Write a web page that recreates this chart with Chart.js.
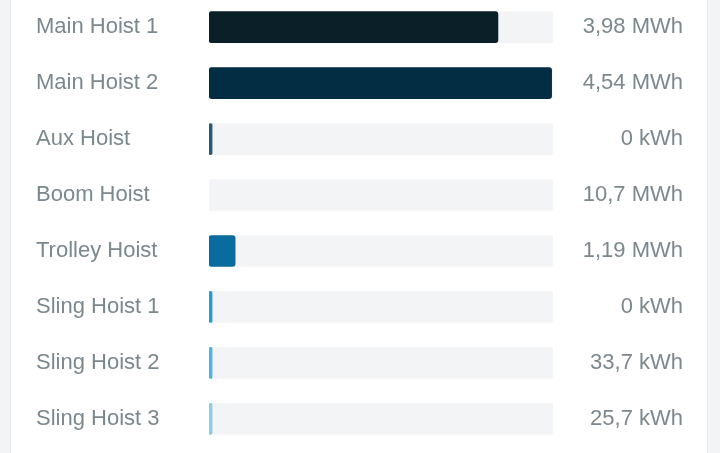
<!DOCTYPE html>
<html>
<head>
<meta charset="utf-8">
<script src="https://cdn.jsdelivr.net/npm/chart.js@4/dist/chart.umd.min.js"></script>
<style>
    html, body { margin: 0; padding: 0; }
    body { width: 720px; height: 453px; background: #f3f4f6; position: relative; overflow: hidden; }
    .card { position: absolute; left: 10px; top: -2px; width: 696px; height: 470px; background: #fff; border-left: 1px solid #e6e8ea; border-right: 1px solid #e6e8ea; }
    .wrap { position: absolute; left: 36px; top: -17px; width: 647px; height: 480px; }
</style>
</head>
<body>
<div class="card"></div>
<div class="wrap"><canvas id="energyChart"></canvas></div>
<script>
// Energy consumption per hoist

const hoists = ['Main Hoist 1', 'Main Hoist 2', 'Aux Hoist', 'Boom Hoist', 'Trolley Hoist', 'Sling Hoist 1', 'Sling Hoist 2', 'Sling Hoist 3'];
const energyLabels = ['3,98 MWh', '4,54 MWh', '0 kWh', '10,7 MWh', '1,19 MWh', '0 kWh', '33,7 kWh', '25,7 kWh'];
// bar fill in percent of the track, as drawn
const barPercent = [84, 99.6, 0.9, 0, 7.6, 0.9, 0.9, 0.9];
const trackPercent = [100, 100, 100, 100, 100, 100, 100, 100];

const barColors = ['#0b1f28', '#032d43', '#28597a', 'rgba(0,0,0,0)', '#0a6b9e', '#2b9bd0', '#4fb3e0', '#8ecbe6'];
const textColor = '#7b888e';
const labelFont = { family: 'Liberation Sans, Arial, sans-serif', size: 22 };

const ctx = document.getElementById('energyChart').getContext('2d');

new Chart(ctx, {
    type: 'bar',
    data: {
        labels: hoists,
        datasets: [
            {
                label: 'Energy',
                data: barPercent,
                backgroundColor: barColors,
                borderRadius: 3,
                borderSkipped: false,
                barThickness: 31,
                grouped: false
            },
            {
                label: 'Track',
                data: trackPercent,
                backgroundColor: '#f3f4f6',
                borderRadius: 3,
                borderSkipped: false,
                barThickness: 31,
                grouped: false
            }
        ]
    },
    options: {
        indexAxis: 'y',
        responsive: true,
        maintainAspectRatio: false,
        animation: false,
        layout: { padding: 0 },
        plugins: {
            legend: { display: false },
            tooltip: { enabled: false }
        },
        scales: {
            x: {
                display: false,
                min: 0,
                max: 100
            },
            y: {
                position: 'left',
                grid: { display: false },
                border: { display: false },
                ticks: { crossAlign: 'far', color: textColor, font: labelFont },
                afterFit: function(scale) { scale.width = 173; }
            },
            y2: {
                type: 'category',
                labels: energyLabels,
                position: 'right',
                offset: true,
                grid: { display: false },
                border: { display: false },
                ticks: { crossAlign: 'far', color: textColor, font: labelFont },
                afterFit: function(scale) { scale.width = 130; }
            }
        }
    }
});
</script>
</body>
</html>
